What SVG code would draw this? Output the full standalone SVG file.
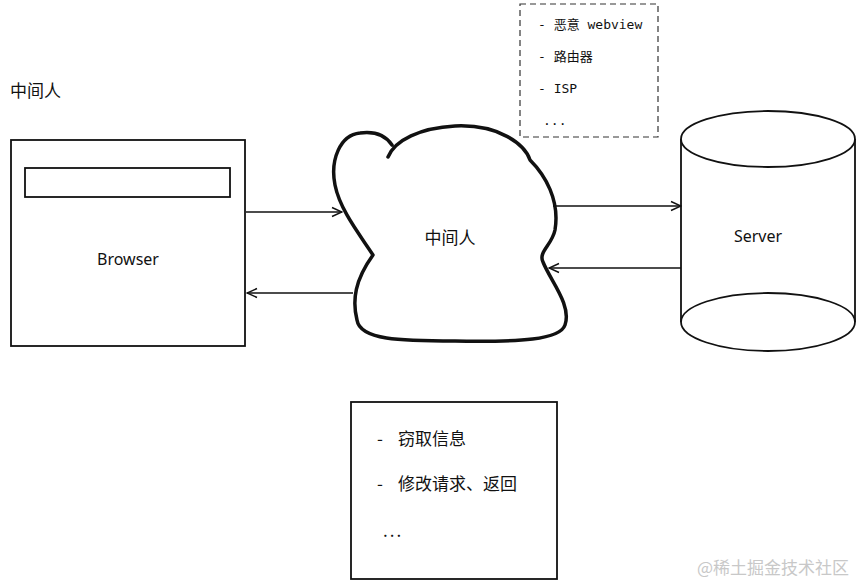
<svg xmlns="http://www.w3.org/2000/svg" width="862" height="584" viewBox="0 0 862 584">
<defs>
<style>
.ln{fill:none;stroke:#111;stroke-width:1.6}
.box{fill:#fff;stroke:#111;stroke-width:1.8}
.cn{font-family:"Noto Sans CJK SC","Noto Sans",sans-serif;fill:#111}
.mono{font-family:"DejaVu Sans Mono","Noto Sans CJK SC",monospace;font-size:13px;fill:#111}
.hand{font-family:"Noto Sans","Liberation Sans",sans-serif;font-size:16px;fill:#111}
</style>
<marker id="ah" viewBox="0 0 12 12" refX="11" refY="6" markerWidth="12" markerHeight="12" markerUnits="userSpaceOnUse" orient="auto">
<path d="M1 1.5 L11 6 L1 10.5" fill="none" stroke="#111" stroke-width="1.5"/>
</marker>
</defs>
<rect width="862" height="584" fill="#fff"/>
<text class="cn" x="10" y="97" font-size="17">中间人</text>
<g id="browser">
<rect class="box" x="11" y="140" width="234" height="206"/>
<rect class="box" x="25" y="168" width="205" height="29"/>
<text class="hand" x="128" y="265" text-anchor="middle">Browser</text>
</g>
<g id="mitm">
<path d="M388 157 C395 140 420 128 455 126 C500 124 525 145 530 160 C545 175 560 200 555 230 C552 245 538 252 543 262 C550 280 572 305 565 325 C560 340 520 342 455 341 C400 341 360 340 357 320 C352 300 355 280 373 255 C360 235 340 210 335 185 C330 160 340 135 360 133 C375 131 386 136 392 145" fill="#fff" stroke="#111" stroke-width="3.5" stroke-linecap="round" stroke-linejoin="round"/>
<text class="cn" x="450" y="244" font-size="17" text-anchor="middle">中间人</text>
</g>
<g id="mitm-types">
<rect x="520" y="4" width="138" height="133" fill="none" stroke="#333" stroke-width="1.2" stroke-dasharray="6 4"/>
<text class="mono" x="538" y="29">- 恶意 webview</text>
<text class="mono" x="538" y="61">- 路由器</text>
<text class="mono" x="538" y="93">- ISP</text>
<text class="mono" x="543" y="125">...</text>
</g>
<g id="server">
<path d="M681 139 L681 322 A87 29 0 0 0 855 322 L855 139" fill="#fff" stroke="#111" stroke-width="1.8"/>
<ellipse cx="768" cy="139" rx="87" ry="28" fill="#fff" stroke="#111" stroke-width="1.8"/>
<path d="M681 322 A87 29 0 0 1 855 322" fill="none" stroke="#111" stroke-width="1.8"/>
<text class="hand" x="758" y="242" text-anchor="middle">Server</text>
</g>
<g id="attacks">
<rect class="box" x="351" y="402" width="206" height="177"/>
<text class="cn" y="445" font-size="17"><tspan x="377">-</tspan><tspan x="398">窃取信息</tspan></text>
<text class="cn" y="490" font-size="17"><tspan x="377">-</tspan><tspan x="398">修改请求、返回</tspan></text>
<text class="cn" x="383" y="537" font-size="17" letter-spacing="2">...</text>
</g>
<g id="connectors">
<line class="ln" x1="246" y1="212" x2="342" y2="212" marker-end="url(#ah)"/>
<line class="ln" x1="353" y1="293" x2="247" y2="293" marker-end="url(#ah)"/>
<line class="ln" x1="553" y1="206" x2="681" y2="206" marker-end="url(#ah)"/>
<line class="ln" x1="681" y1="268" x2="549" y2="268" marker-end="url(#ah)"/>
</g>
<text class="cn" x="697" y="574" font-size="17" style="fill:#c8c8c8">@稀土掘金技术社区</text>
</svg>
